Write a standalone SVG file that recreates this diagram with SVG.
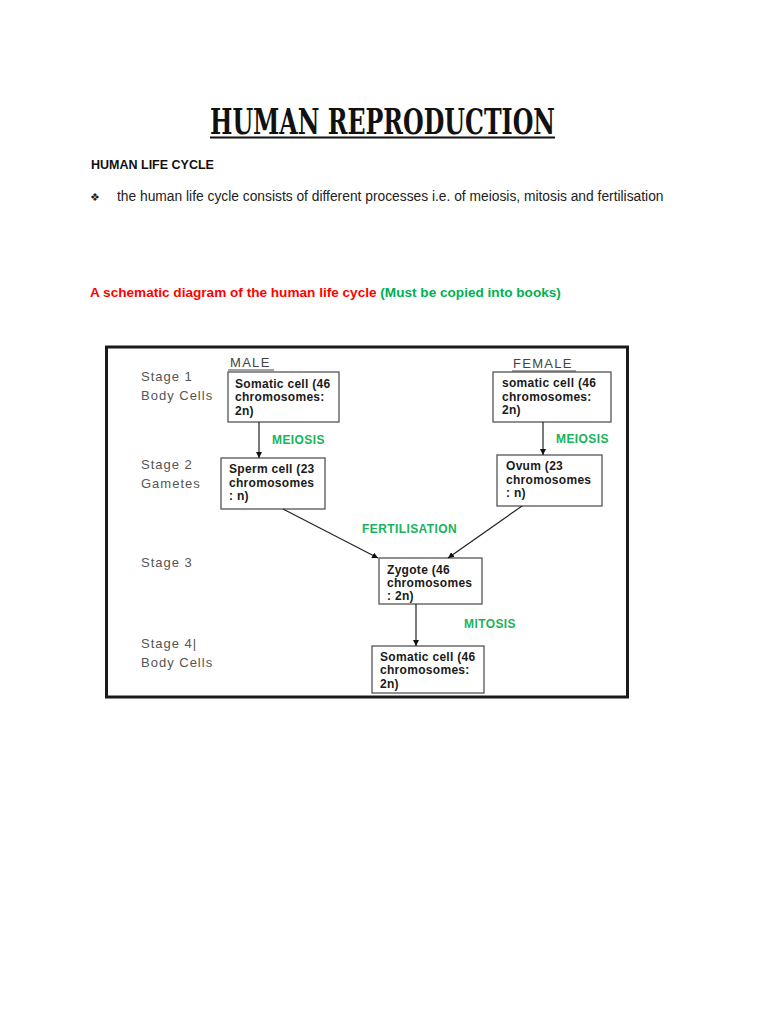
<svg xmlns="http://www.w3.org/2000/svg" width="768" height="1024" viewBox="0 0 768 1024">
<defs>
<marker id="ah" viewBox="0 0 10 10" refX="10" refY="5" markerWidth="6" markerHeight="6" orient="auto" markerUnits="userSpaceOnUse">
<path d="M0,0 L10,5 L0,10 z" fill="#111"/>
</marker>
<style>
.box{fill:#fff;stroke:#555;stroke-width:1.3}
.bt{font-family:"Liberation Sans",Arial,sans-serif;font-size:12px;font-weight:bold;fill:#1a1a1a;letter-spacing:0.3px}
.st{font-family:"Liberation Sans",Arial,sans-serif;font-size:13px;fill:#555;letter-spacing:1px}
.gr{font-family:"Liberation Sans",Arial,sans-serif;font-size:12px;font-weight:bold;fill:#19b35a;letter-spacing:0.4px}
.sex{font-family:"Liberation Sans",Arial,sans-serif;font-size:13px;fill:#444;letter-spacing:1.3px}
.con{stroke:#222;stroke-width:1.2;fill:none;marker-end:url(#ah)}
</style>
</defs>
<rect width="768" height="1024" fill="#fff"/>

<text x="210" y="134" font-family="'DejaVu Serif','Liberation Serif',serif" font-weight="bold" font-size="36" textLength="345" lengthAdjust="spacingAndGlyphs" fill="#111">HUMAN REPRODUCTION</text>
<line x1="210" y1="137.5" x2="555" y2="137.5" stroke="#111" stroke-width="2"/>

<text x="91" y="169" font-family="'Liberation Sans',Arial,sans-serif" font-weight="bold" font-size="12.5" fill="#111">HUMAN LIFE CYCLE</text>
<text x="95" y="201" font-family="'DejaVu Sans',sans-serif" font-size="11" fill="#222" text-anchor="middle">❖</text>
<text x="117" y="201" font-family="'Liberation Sans',Arial,sans-serif" font-size="13.8" fill="#222">the human life cycle consists of different processes i.e. of meiosis, mitosis and fertilisation</text>

<text x="90" y="297" font-family="'Liberation Sans',Arial,sans-serif" font-weight="bold" font-size="13.6"><tspan fill="#ff0000">A schematic diagram of the human life cycle </tspan><tspan fill="#00b050">(Must be copied into books)</tspan></text>

<rect x="106.5" y="347" width="521" height="350" fill="none" stroke="#1a1a1a" stroke-width="3"/>

<g id="labels">
<text class="st" x="141" y="381">Stage 1</text>
<text class="st" x="141" y="400">Body Cells</text>
<text class="st" x="141" y="469">Stage 2</text>
<text class="st" x="141" y="488">Gametes</text>
<text class="st" x="141" y="567">Stage 3</text>
<text class="st" x="141" y="648">Stage 4|</text>
<text class="st" x="141" y="667">Body Cells</text>
<text class="sex" x="230" y="367">MALE</text>
<line x1="228" y1="370" x2="274" y2="370" stroke="#444" stroke-width="1"/>
<text class="sex" x="513" y="368">FEMALE</text>
<line x1="512" y1="371" x2="576" y2="371" stroke="#444" stroke-width="1"/>
</g>

<g id="male-somatic">
<rect class="box" x="228" y="372" width="111" height="50"/>
<text class="bt" x="235" y="387.5">Somatic cell (46</text>
<text class="bt" x="235" y="401">chromosomes:</text>
<text class="bt" x="235" y="415">2n)</text>
</g>

<g id="female-somatic">
<rect class="box" x="493" y="372" width="118" height="50"/>
<text class="bt" x="502" y="387">somatic cell (46</text>
<text class="bt" x="502" y="400.5">chromosomes:</text>
<text class="bt" x="502" y="414">2n)</text>
</g>

<g id="sperm">
<rect class="box" x="221" y="458" width="104" height="51"/>
<text class="bt" x="229" y="473">Sperm cell (23</text>
<text class="bt" x="229" y="486.5">chromosomes</text>
<text class="bt" x="229" y="500">: n)</text>
</g>

<g id="ovum">
<rect class="box" x="497" y="455" width="105" height="51"/>
<text class="bt" x="506" y="470">Ovum (23</text>
<text class="bt" x="506" y="483.5">chromosomes</text>
<text class="bt" x="506" y="497">: n)</text>
</g>

<g id="zygote">
<rect class="box" x="379" y="558" width="103" height="46"/>
<text class="bt" x="387" y="574">Zygote (46</text>
<text class="bt" x="387" y="587">chromosomes</text>
<text class="bt" x="387" y="599.5">: 2n)</text>
</g>

<g id="body-somatic">
<rect class="box" x="372" y="646" width="112" height="47"/>
<text class="bt" x="380" y="661">Somatic cell (46</text>
<text class="bt" x="380" y="674">chromosomes:</text>
<text class="bt" x="380" y="687.5">2n)</text>
</g>

<g id="connectors">
<line class="con" x1="259" y1="422" x2="259" y2="458"/>
<line class="con" x1="543" y1="422" x2="543" y2="455"/>
<line class="con" x1="283" y1="509" x2="378" y2="558"/>
<line class="con" x1="522" y1="506" x2="448" y2="558"/>
<line class="con" x1="416" y1="604" x2="416" y2="646"/>
<text class="gr" x="272" y="444">MEIOSIS</text>
<text class="gr" x="556" y="443">MEIOSIS</text>
<text class="gr" x="362" y="533">FERTILISATION</text>
<text class="gr" x="464" y="628">MITOSIS</text>
</g>
</svg>
